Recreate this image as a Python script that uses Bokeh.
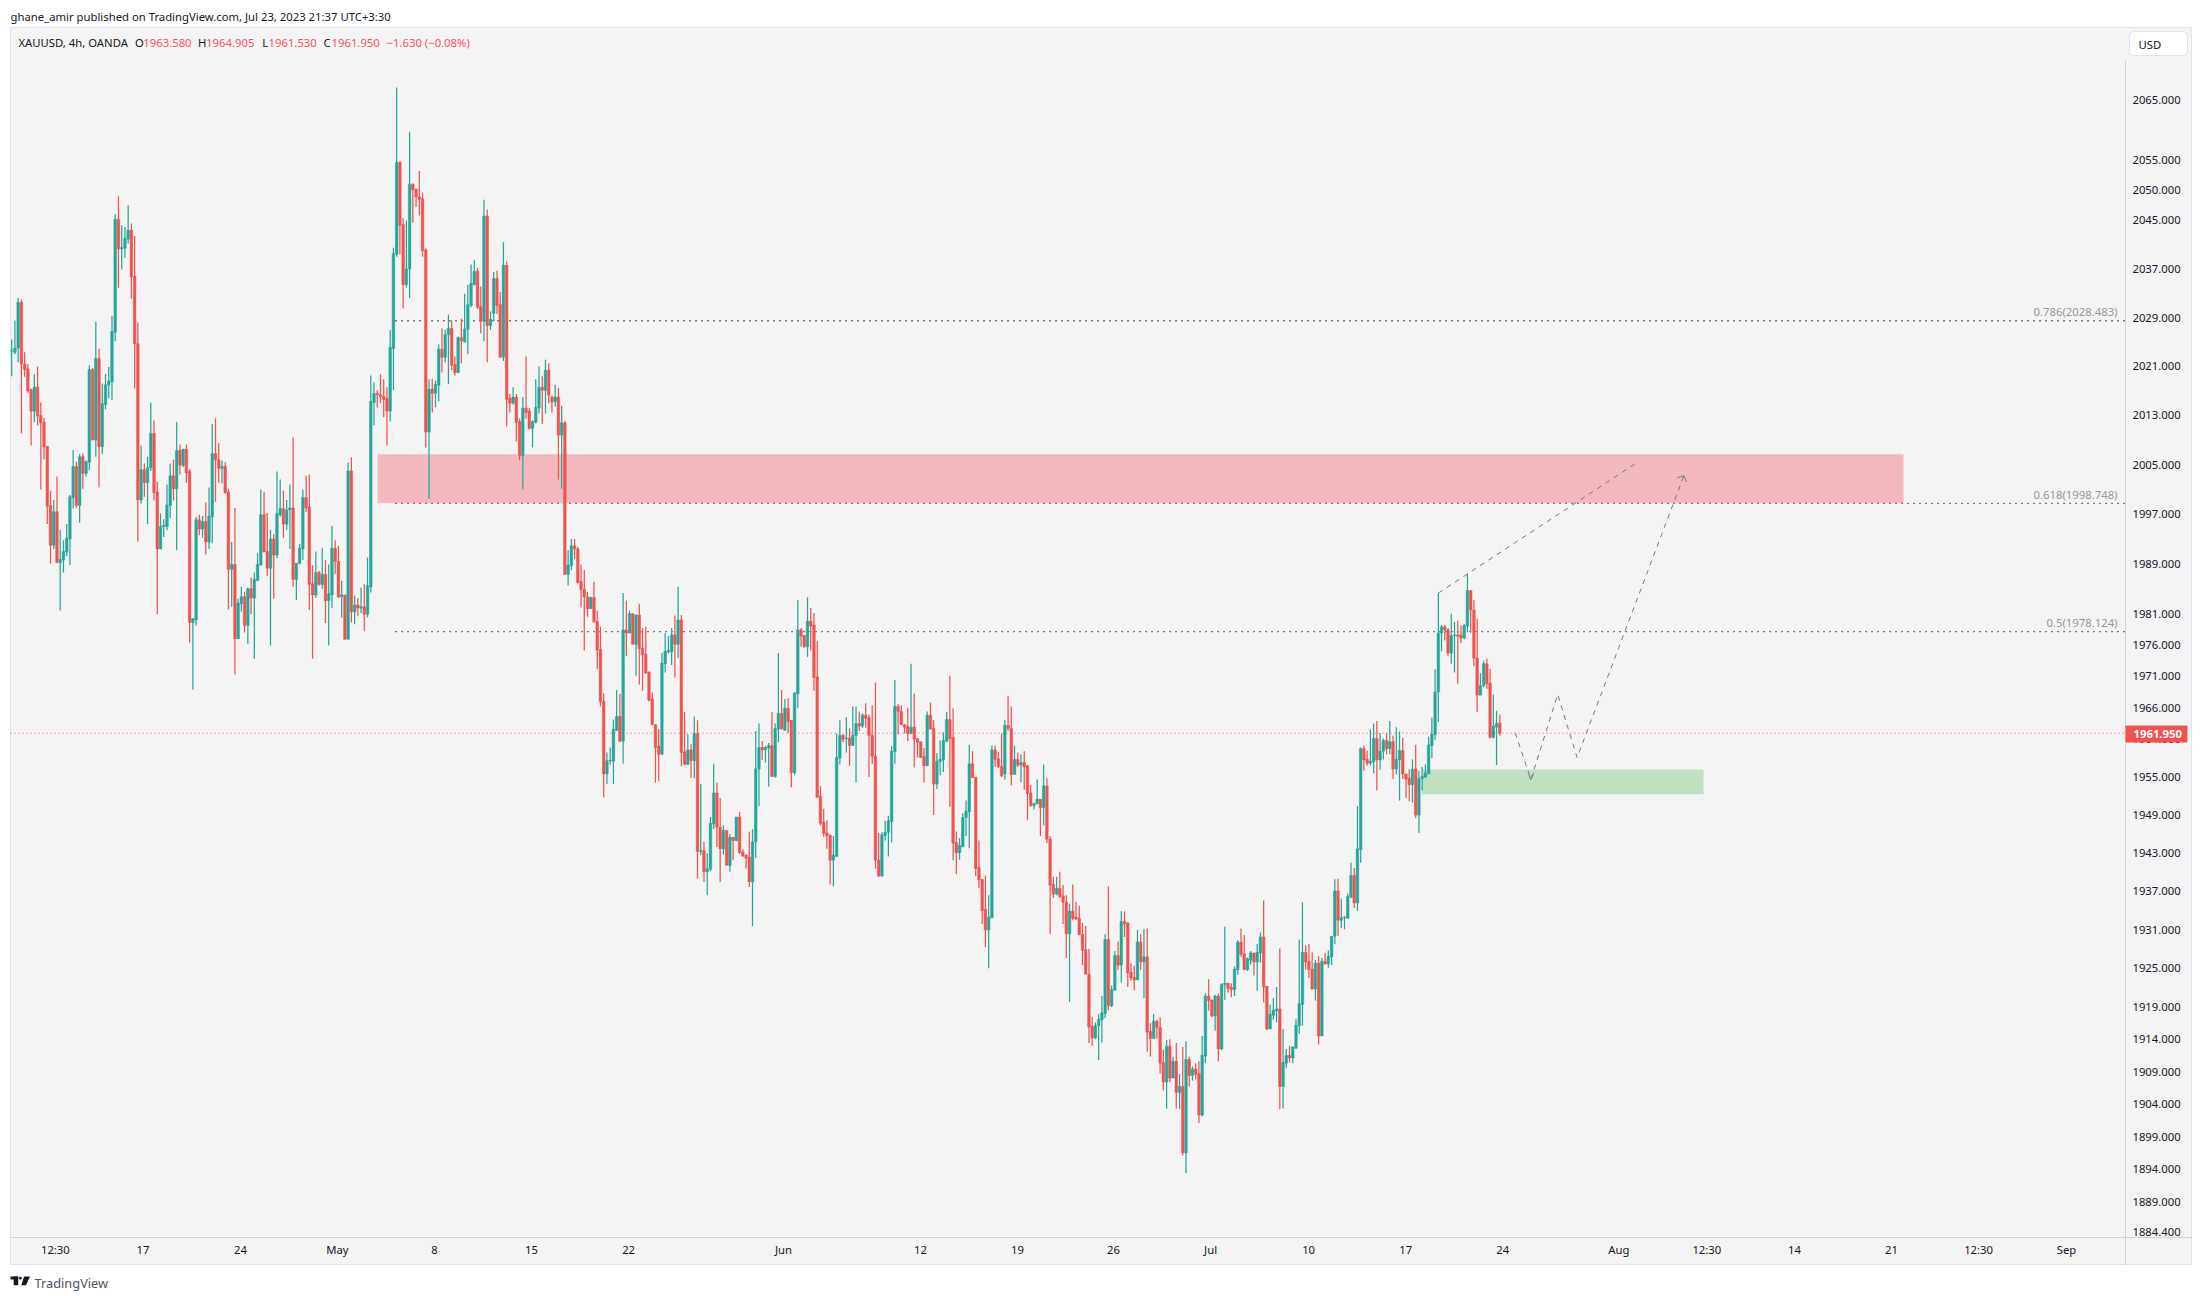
from bokeh.plotting import figure
from bokeh.embed import file_html
from bokeh.resources import INLINE
from bokeh.models import (ColumnDataSource, FixedTicker, NumeralTickFormatter, Range1d,
                          BoxAnnotation, Label, PolyAnnotation)

# ---------------------------------------------------------------- data
opens = [
2023.5,2023.3,2024,2031.5,2021.4,2020.6,2017.2,2013.7,2017.6,2013,
2011.9,2008,1998.4,1992,1997.4,1989.2,1989.6,1990.9,1993,1999.7,
2004.7,1998.4,2006.3,2003.6,2005.4,2020.5,2009,2022.3,2007.9,2014.8,
2018,2018.5,2026.6,2045.2,2040.3,2040.4,2041.9,2043.4,2035.8,2024.7,
1999.3,2004.2,2002.1,2004.5,2010.1,2000.6,1991.4,1995,1995,1998.4,
2003.2,2001.1,2007.3,2004.9,2007.5,2003.9,1979.6,1980,1996.1,1994.6,
1995.8,1992.5,1996.6,2006.8,2005.8,2004.4,2004.7,2000.6,1988.1,1988.9,
1977,1982.6,1983.7,1979.1,1985,1983.5,1986.3,1988.8,1996.9,1991,
1988.3,1993,1990.4,1996.9,1997.9,1995.4,1997.7,1998,1986.5,1989.1,
1991.4,1999.7,1998.2,1985.8,1984,1987.6,1985.7,1987.3,1983.1,1984,
1991.5,1989.4,1983.7,1984,1976.9,2004,1981.3,1982.4,1981.9,1982.1,
1980.9,1985.3,2015.1,2016.6,2016.4,2016.1,2015.8,2013.7,2023.9,2039.4,
2054.6,2044.3,2034.4,2037,2051,2050.2,2048.9,2048.6,2040.1,2010.3,
2017.3,2016.6,2017.9,2023.8,2022.5,2026.2,2027.2,2021.3,2020,2025.7,
2025,2027.1,2031,2034.4,2036.6,2030.8,2028.4,2045.7,2027.7,2029.7,
2035.4,2031.1,2022.5,2037.6,2015.8,2015,2016,2012,2006.5,2014.2,
2013.7,2010.9,2011.9,2014.2,2017.6,2017.1,2020.4,2016,2015.2,2016,
2009.8,2011.8,1987.3,1988.7,1991.9,1991.4,1986.2,1984.9,1983.7,1981.8,
1983.6,1979.8,1975.3,1967,1955.5,1957.6,1957.5,1962.4,1964.6,1960.7,
1978.4,1977.9,1981,1976.1,1980.8,1975.5,1974.5,1971.7,1967.4,1963.3,
1959.9,1958.6,1973,1974.9,1974.9,1977.6,1976.1,1980,1959,1957,
1959.3,1957.6,1961.9,1943.3,1943.4,1940.1,1940.5,1947.6,1952.5,1947.1,
1943.7,1946.6,1941.1,1945.5,1945,1948.7,1943.2,1942.7,1942.4,1938.5,
1944.8,1956.3,1959.7,1959.3,1959.6,1960,1955.1,1962.6,1965.1,1962.4,
1965.9,1964,1955.7,1968.2,1978.4,1977.5,1975.7,1979.8,1979.2,1970.9,
1952,1947.9,1946.2,1945.8,1941.9,1942.5,1958,1961.6,1961.1,1961.2,
1960,1961.6,1963.5,1963.1,1964.8,1964.4,1961.6,1958.3,1941.9,1939.4,
1945.8,1946.3,1948,1959,1966.2,1965.4,1963.3,1963,1961.9,1962.9,
1961.1,1960.6,1958.3,1956.8,1964.8,1962.7,1953.9,1957.5,1957.7,1960.7,
1964.1,1961.3,1944.7,1943.1,1944,1948.6,1949.5,1957.1,1955,1940.8,
1938.9,1934.2,1931,1932.9,1959.3,1957.9,1956.7,1955.5,1963.2,1962.7,
1955.4,1957.8,1956.9,1957.3,1956.8,1952.5,1950.5,1950.8,1951.5,1950.2,
1953.6,1945.2,1938.1,1936.6,1937.5,1936.3,1935.3,1930.4,1933.9,1933,
1932.8,1930.3,1927.9,1924.1,1916,1914.2,1916.1,1917,1918,1929.5,
1919.2,1921.6,1927,1925.5,1932.3,1932.1,1924.4,1923.6,1923.2,1929.1,
1926,1926.8,1915.2,1914.1,1916.8,1915.8,1910.4,1907.4,1912.9,1908,
1910.6,1905.8,1906.7,1896.5,1910.9,1908.4,1909.4,1908.7,1902.3,1911.4,
1920.7,1920.1,1917.6,1920.7,1912.5,1922.5,1922.7,1922,1921.7,1924.8,
1929.1,1927.3,1924.8,1926.3,1927.4,1926,1927.4,1929.9,1922.2,1915.6,
1917.7,1918.4,1918.7,1906.7,1910.3,1911.5,1911.1,1912.6,1916.1,1919.4,
1927.5,1926.1,1924.9,1921.8,1925.8,1914.5,1926.1,1925.7,1926.8,1930,
1937.1,1932.5,1932.9,1932.8,1936.1,1939.5,1935.2,1943.6,1959.5,1957.8,
1957.2,1957.4,1961.1,1957.7,1959.1,1960.8,1959.5,1960.6,1956.3,1957.7,
1959.2,1955.5,1954.8,1953.8,1956.3,1949,1954.8,1955,1955.5,1960,
1961.7,1968.5,1977.9,1978.9,1978.4,1974.7,1977.5,1977.6,1977.6,1977.1,
1979,1984.7,1981.6,1973.9,1968,1969.5,1973,1969.9,1961.3,1962.9,
1963.58]

highs = [
2025.4,2028.5,2032.2,2032,2023.3,2021.4,2017.4,2019.7,2021,2015.1,
2012.6,2008,2000.8,1999.3,2003.1,1994.5,1992.8,1995.4,2000.1,2007.4,
2005.5,2006.7,2006.8,2005.7,2021.2,2020.8,2028.3,2023.9,2018.2,2019.8,
2020.9,2029.3,2046,2049,2044.2,2043.9,2047.5,2044.5,2042.4,2028.2,
2008.1,2005.2,2006.3,2015.1,2012.2,2002.2,1997.1,1996.2,2001.8,2005.2,
2005.8,2011.9,2008.3,2007.6,2008.3,2004.3,1980.3,1996.6,1996.9,1996.7,
1998.9,2001.3,2011.6,2012.5,2008.5,2005.7,2005.4,2001.1,1992.5,1998,
1983.4,1985.3,1984.5,1985.2,1986.8,1987.6,1990.7,2001,2000.6,1997.2,
1994.5,1993.8,2003.9,2002.6,2000.8,1999.3,2001.8,2009.4,1989.1,1992.2,
2001,2003.2,2003.4,1988.8,1991,1987.9,1991.5,1989.6,1988.9,1995.1,
1992.8,1991.9,1986.3,1984,2005.4,2006.2,1983.9,1983.5,1985.2,1985.7,
1990,2019.5,2018.4,2017.1,2019.7,2018.9,2017.6,2026.9,2040.5,2067.1,
2054.8,2045.4,2045,2059.7,2051.1,2050.2,2053.2,2049.6,2040.4,2018.9,
2019,2018.7,2024.6,2027.2,2027,2029.5,2028.5,2022.6,2025.9,2028.8,
2032.9,2034.4,2037.7,2038.4,2037.2,2034.1,2048.4,2046.8,2030,2036.5,
2036.7,2033.2,2041.4,2038.2,2016.5,2017.6,2016.5,2012.5,2016,2022.6,
2014.2,2012.2,2018.9,2021,2019.4,2022.1,2021.5,2016.3,2018,2017.5,
2014.6,2012.1,1991.2,1993,1993,1991.7,1988.9,1988,1984.5,1983.7,
1986.1,1981.5,1978.9,1968.3,1958.9,1959.7,1964.1,1968.8,1968.2,1984.3,
1983.1,1981.5,1981,1980.8,1982.6,1978.7,1978.9,1971.7,1968.4,1963.3,
1962.6,1974.7,1977.9,1977.4,1978.7,1980.7,1985.3,1980.8,1965.3,1961.8,
1960.2,1964.6,1964,1953.9,1944.8,1943,1948.7,1957.1,1954.1,1951.7,
1947.4,1946.6,1946,1945.5,1948.7,1949.5,1943.6,1942.8,1946.4,1946.8,
1962.3,1963.5,1960.7,1959.9,1960.4,1965.3,1963.5,1974.7,1968.8,1967.4,
1967.5,1964,1968.5,1983.2,1978.7,1977.6,1983.6,1981.9,1981.1,1976.6,
1953.6,1950,1948.2,1946,1945.7,1961.9,1964,1961.8,1964.5,1962.7,
1966.2,1966.2,1965.4,1965.1,1966.7,1964.9,1966.4,1970,1946.2,1946.3,
1948.1,1948.9,1959.9,1970.4,1966.6,1966.4,1963.4,1966,1973,1968.2,
1961.1,1960.6,1959.6,1965.4,1966.8,1964,1958.8,1960.8,1962.1,1965.3,
1971.1,1965.9,1946.4,1945.4,1949.3,1951.3,1960.1,1959.1,1955,1945,
1938.9,1939.5,1936.4,1960,1960,1959,1961.9,1964,1967.9,1966.2,
1960,1958.9,1958.6,1959.1,1956.9,1953.8,1951,1954.6,1951.5,1957,
1954.8,1945.7,1939.3,1939.3,1940.1,1938,1936.4,1935.1,1938.1,1935.4,
1934.8,1932.1,1931.6,1928,1917.5,1916.6,1917.9,1920.7,1930.3,1937.8,
1922.3,1927.7,1929.2,1933.9,1933.9,1932.1,1925.8,1925.4,1931,1930.3,
1931.1,1931.2,1916.5,1917.9,1917,1917.4,1912.4,1913.9,1914,1911.3,
1913.4,1908.6,1912.8,1913.7,1911.3,1909.8,1910.3,1910.6,1914.5,1921.1,
1923.3,1920.1,1920.9,1921.1,1922.7,1931.5,1922.7,1922.7,1925.3,1929.4,
1931.2,1930.2,1926.7,1927.7,1927.4,1928.8,1930.6,1935.6,1922.2,1919.4,
1920.4,1922.1,1928.1,1915.6,1912.5,1913,1912.9,1917.1,1929.5,1935.3,
1928.6,1928.8,1927.5,1926.3,1926.9,1926.6,1927.4,1927.8,1930,1938.9,
1939,1935.9,1933.1,1936.7,1941.5,1940.7,1950.4,1959.7,1960,1959.2,
1962.5,1963.5,1963.9,1962,1961.1,1962,1963.9,1961.6,1962.9,1962.2,
1961.2,1955.5,1956.2,1957.8,1960.1,1956,1956.6,1957,1961.4,1964.4,
1972.1,1984.3,1979.2,1979.2,1978.7,1981,1979.7,1979.9,1979.1,1979.4,
1987.4,1984.8,1983.2,1980.2,1971.5,1973.5,1973.8,1972.2,1968.1,1965.5,
1964.905]

lows = [
2019.4,2023,2021.7,2010.1,2019.3,2016.7,2008.1,2011.9,2011.4,2001,
2005.9,1995.4,1989,1991.4,1989.1,1981.5,1987.6,1990.2,1988.8,1997.9,
1998,1995.6,2001.1,2003.1,2004.1,2009,2006.3,2001.3,2006.7,2014,
2015.8,2015.5,2025.1,2033.9,2036.9,2038.8,2041.2,2032.1,2017.4,1992.6,
1998.7,1999.8,1995.4,2004,1999.2,1980.9,1991.4,1993.3,1994.4,1996.4,
1999.2,1991.2,2003.4,2004.6,2002.1,1976.4,1968.9,1979.1,1993.6,1993.2,
1990.5,1991.4,1992.3,1999,2002.1,2002,2000.3,1981.7,1982.1,1971.3,
1977,1981.3,1978,1976.2,1980.9,1973.8,1986.3,1988.8,1990.9,1987,
1975.9,1983.4,1989.9,1996.6,1993.2,1994.5,1991.4,1985.3,1983.2,1988.9,
1989.6,1997.4,1981.6,1973.8,1983.5,1985.5,1985,1979.5,1975.9,1981.9,
1987.4,1983.5,1980.4,1976.9,1976.9,1979.6,1979.3,1980.6,1981.1,1978.2,
1980.4,1984.4,2011.4,2014.3,2015,2012.7,2008.1,2012,2017.1,2039,
2039.4,2030.5,2033.9,2032.2,2044.6,2047.2,2045.8,2039,2007.8,1999.5,
2013.5,2014.3,2015.3,2020,2021.7,2018.1,2020.4,2019.5,2019.9,2021.5,
2024.9,2023,2030.7,2034.3,2030.4,2026.4,2025.1,2021.7,2027,2028.4,
2029.6,2022.4,2021.9,2011.2,2013.5,2014.8,2008.8,2005.7,2001,2012.5,
2010.7,2007.8,2011.7,2013.3,2011.6,2013.3,2015,2013.5,2014.4,2002.6,
2001.1,1987.3,1985.5,1988,1989.8,1985.8,1982,1975.1,1980.5,1981.8,
1979.6,1972.2,1966.2,1951.8,1953.9,1957,1953.9,1962.3,1960.5,1957.1,
1974.2,1977.9,1976.1,1971.1,1969.7,1968.7,1971.5,1967,1963.3,1954.1,
1954.4,1958.6,1971.6,1974.6,1972.8,1970.8,1973.9,1956.7,1957,1957,
1954.9,1954.8,1939,1942.7,1938.5,1936.4,1940.2,1946.8,1944,1938.5,
1942.8,1941.1,1940.1,1941.9,1944.9,1942.9,1942.4,1940.6,1937.7,1931.6,
1942.2,1950.4,1957.7,1957.3,1953.5,1955.1,1954.9,1960.5,1962.6,1962.4,
1962,1953.4,1955.3,1966,1975.7,1975.5,1974.1,1975.1,1968.7,1951.8,
1947.4,1945.6,1943.7,1938.1,1937.8,1942.5,1957,1960.5,1958.9,1956.8,
1959.9,1954.2,1962.3,1962.8,1962.8,1955,1957.1,1940.6,1939.4,1939.4,
1945,1942.5,1944.7,1957.1,1961.8,1963.3,1961.9,1960.7,1961.8,1956.5,
1958.1,1958.1,1954.1,1956.7,1962.6,1949,1953.1,1955.3,1955.8,1960.5,
1950.3,1941.9,1939.7,1942,1944,1945.7,1943.8,1954.9,1939.4,1937.5,
1931.9,1928.3,1925,1932.9,1956.6,1956.4,1955,1954.6,1962.3,1953.7,
1955.4,1956.6,1954.2,1953,1948.2,1950.3,1949.9,1950.7,1945.7,1947.4,
1944.6,1930.4,1936,1936.4,1936,1931.9,1926.6,1919.8,1932.5,1932.5,
1930.2,1925.5,1924.1,1913.4,1913,1914,1910.8,1913.5,1917.3,1918.5,
1919,1921.6,1924.8,1922.8,1929.9,1922.1,1923.1,1921.6,1923.2,1924.8,
1920.4,1912.1,1911.3,1914.1,1914.1,1908.7,1906.1,1903.3,1907.4,1908,
1903.3,1903.2,1896.1,1893.4,1906.7,1907.6,1907.8,1901.1,1902.1,1910.3,
1918.4,1917.4,1915.3,1910.6,1912.3,1920.1,1921.2,1920.5,1920.7,1924,
1926.8,1924.8,1924.6,1925.6,1923.9,1921.5,1925.9,1919.7,1915.4,1915.6,
1917,1916.6,1903.2,1903.3,1909.5,1910.4,1910.3,1912.6,1914.8,1916.1,
1924.8,1923.5,1921.7,1920,1913.2,1914.5,1925.6,1925.1,1925.5,1928.8,
1930.1,1931.3,1931.1,1932.8,1936,1934.4,1934,1941.5,1956,1956.8,
1956.8,1955.6,1952.9,1956.2,1957.8,1958.6,1958.6,1954.7,1955.4,1951.3,
1954.7,1951.7,1951.2,1951,1948.5,1946.2,1952.9,1954.9,1955.5,1958,
1960.9,1963.7,1975,1976.7,1974.2,1973,1971.6,1969.8,1976.3,1976.9,
1978,1978,1972.6,1965.3,1968,1969.3,1969,1961.1,1961.1,1956.9,
1961.53]

closes = [
2023.6,2024,2031.5,2021.4,2020.5,2017,2013.7,2017.6,2012.9,2011.8,
2007.9,1998.3,1992,1997.4,1989.2,1989.7,1991,1993.1,1999.8,2004.7,
1998.4,2006.3,2003.6,2005.5,2020.5,2009,2022.3,2007.9,2014.9,2018,
2018.6,2026.7,2045.2,2040.3,2040.5,2042,2043.4,2035.7,2024.7,1999.3,
2004.2,2002.1,2004.5,2010.1,2000.5,1991.4,1995,1995.2,1998.5,2003.2,
2001.1,2007.3,2004.9,2007.5,2003.7,1979.6,1980.2,1996.1,1994.6,1995.8,
1992.5,1996.7,2006.8,2005.8,2004.4,2004.7,2000.5,1988.1,1988.9,1977,
1982.7,1983.7,1979.1,1985,1983.5,1986.5,1988.9,1996.9,1990.9,1988.3,
1993,1990.4,1997.1,1997.9,1995.4,1997.7,1998,1986.5,1989.1,1991.5,
1999.7,1998,1985.7,1984,1987.6,1985.7,1987.3,1983.1,1984.2,1991.5,
1989.4,1983.7,1984,1976.9,2004,1981.3,1982.4,1981.9,1982.1,1980.9,
1985.5,2015.3,2016.6,2016.4,2016.1,2015.6,2013.7,2024.1,2039.5,2054.6,
2044.2,2034.4,2037,2051,2050.1,2048.9,2048.5,2040,2010.3,2017.3,
2016.6,2018.1,2023.8,2022.5,2026.2,2027.2,2021.2,2020,2025.7,2025.2,
2027.1,2031.1,2034.6,2036.6,2030.7,2028.4,2045.7,2027.7,2028.7,2035.4,
2031,2022.5,2037.6,2015.6,2015,2016,2011.9,2006.5,2014.2,2013.5,
2010.9,2012,2014.3,2017.6,2017.1,2020.4,2016.3,2015.2,2016,2009.8,
2011.8,1987.3,1988.8,1991.9,1991.4,1986,1984.9,1983.7,1981.8,1983.6,
1979.7,1975.2,1967,1955.5,1957.6,1957.7,1962.6,1964.6,1960.7,1978.4,
1977.9,1981,1976.1,1980.8,1975.4,1974.4,1971.5,1967.2,1963.3,1959.7,
1958.6,1973.1,1975,1975.1,1977.6,1976.1,1980,1958.9,1957,1959.3,
1957.6,1961.9,1943.3,1943.4,1940.1,1940.6,1947.7,1952.5,1947.1,1943.7,
1946.6,1941.1,1945.5,1945,1948.7,1943.1,1942.6,1942.2,1938.5,1944.8,
1956.3,1959.7,1959.3,1959.7,1960,1955.1,1962.7,1965.1,1962.6,1965.9,
1963.8,1955.7,1968.3,1978.4,1977.4,1975.7,1979.8,1979,1970.8,1951.8,
1947.7,1946.1,1945.7,1941.9,1942.7,1958.1,1961.6,1961,1961.2,1960,
1961.6,1963.5,1963.1,1964.8,1964.3,1961.6,1958.3,1941.9,1939.4,1945.9,
1946.3,1948.1,1959.1,1966.2,1965.4,1963.3,1962.9,1961.9,1962.9,1961,
1960.5,1958.1,1956.8,1964.8,1962.6,1953.9,1957.5,1957.8,1960.8,1964.1,
1961.1,1944.6,1943.1,1944.2,1948.6,1949.6,1957.1,1954.9,1940.6,1938.8,
1934,1931,1933,1959.3,1957.8,1956.7,1955.2,1963.2,1962.7,1955.4,
1957.8,1956.9,1957.3,1956.6,1952.4,1950.5,1950.8,1951.5,1950.2,1953.6,
1945.2,1938,1936.6,1937.5,1936.2,1935.3,1930.4,1933.9,1932.8,1932.7,
1930.2,1927.8,1924.1,1915.9,1914.2,1916.1,1917.1,1918.1,1929.5,1919.2,
1921.7,1927,1925.5,1932.3,1931.9,1924.3,1923.5,1923.2,1929.1,1926,
1926.8,1915.1,1914.1,1916.8,1915.8,1910.3,1907.4,1912.9,1908,1910.6,
1905.8,1906.7,1896.5,1910.9,1908.4,1909.4,1908.6,1902.3,1911.5,1920.7,
1920,1917.6,1920.7,1912.5,1922.5,1922.7,1921.9,1921.7,1924.9,1929.1,
1927.2,1924.8,1926.5,1927.4,1926,1927.5,1929.9,1922.1,1915.6,1917.9,
1918.5,1918.7,1906.7,1910.4,1911.5,1911.1,1912.8,1916.2,1919.5,1927.5,
1926,1924.8,1921.8,1925.8,1914.5,1926.1,1925.7,1926.9,1930,1937.1,
1932.5,1932.9,1933,1936.2,1939.5,1935.2,1943.7,1959.5,1957.7,1957.2,
1957.5,1961.1,1957.7,1959.1,1960.8,1959.5,1960.6,1956.3,1957.8,1959.2,
1955.5,1954.7,1953.8,1956.2,1949,1954.8,1955.1,1955.6,1960.1,1961.8,
1968.5,1977.9,1978.9,1978.4,1974.7,1977.5,1977.6,1977.4,1977.1,1979.1,
1984.7,1981.6,1973.9,1968,1969.5,1973,1969.8,1961.3,1963.1,1963.5,
1961.95]

price_ticks = [2065,2055,2050,2045,2037,2029,2021,2013,2005,1997,1989,1981,1976,1971,1966,
               1961,1955,1949,1943,1937,1931,1925,1919,1914,1909,1904,1899,1894,1889,1884.4]
time_tick_bars = [13.5,40.6,70.7,100.7,130.7,160.7,190.7,238.6,280.9,310.9,340.6,370.6,400.9,
                  430.9,460.9,496.8,524,551.1,581.1,608,635.2]
time_tick_labels = ["12:30","17","24","May","8","15","22","Jun","12","19","26","Jul","10",
                    "17","24","Aug","12:30","14","21","12:30","Sep"]

fib_levels = [2028.483, 1998.748, 1978.124]
fib_texts = ["0.786(2028.483)", "0.618(1998.748)", "0.5(1978.124)"]
last_price = 1961.95

resistance_bars = [113.1, 584.8]
resistance_prices = [1998.75, 2006.7]
support_bars = [435.9, 523.0]
support_prices = [1952.3, 1956.2]

trend_bars = [441, 502]
trend_prices = [1984.3, 2005.2]
path_bars = [464.8, 469.6, 477.9, 483.9, 516.9]
path_prices = [1962, 1954.6, 1968.1, 1958.1, 2003.2]
head1_bars = [469.0, 469.6, 470.5]
head1_prices = [1955.3, 1954.6, 1955.6]
head2_bars = [514.8, 516.9, 517.7]
head2_prices = [2002.9, 2003.2, 2002.2]

# ---------------------------------------------------------------- style
UP, DOWN = "#26A69A", "#EF5350"
TXT_RED = "#F7525F"
GREY = "#787B86"
PANEL = "#F4F4F4"
EDGE = "#E0E3EB"
FONT = "Noto Sans"
FS = "11.3px"
W, H = 2200, 1298
AXIS_BAR = 653.4      # bar position of the price axis
AXIS_PRICE = 1883.6   # price position of the time axis

n = len(opens)
bars = list(range(n))
src = ColumnDataSource(dict(
    x=bars, o=opens, h=highs, l=lows, c=closes,
    top=[max(a, b) for a, b in zip(opens, closes)],
    bot=[min(a, b) for a, b in zip(opens, closes)],
    col=[UP if c >= o else DOWN for o, c in zip(opens, closes)],
))

# the frame fills the whole canvas, the axes are pinned inside it
p = figure(width=W, height=H, output_backend="svg", toolbar_location=None,
           x_range=Range1d(-3.462, 676.6), y_range=Range1d(1874.30, 2081.68),
           y_axis_type="log", y_axis_location="right",
           min_border_left=0, min_border_right=0, min_border_top=0, min_border_bottom=0,
           background_fill_color="white", border_fill_color="white")
p.outline_line_color = None
p.grid.visible = False

xa, ya = p.xaxis[0], p.yaxis[0]
xa.ticker = FixedTicker(ticks=time_tick_bars)
xa.major_label_overrides = {t: s for t, s in zip(time_tick_bars, time_tick_labels)}
xa.fixed_location = AXIS_PRICE
xa.bounds = (-0.37, 673.8)
ya.ticker = FixedTicker(ticks=price_ticks)
ya.formatter = NumeralTickFormatter(format="0.000")
ya.fixed_location = AXIS_BAR
ya.bounds = (1879.45, 2071.77)
for a in (xa, ya):
    a.major_tick_line_color = None
    a.minor_tick_line_color = None
    a.major_tick_in = 0
    a.major_tick_out = 0
    a.minor_tick_in = 0
    a.minor_tick_out = 0
    a.axis_line_color = "#D1D4DC"
    a.axis_line_width = 1
    a.major_label_text_font = FONT
    a.major_label_text_font_size = FS
    a.major_label_text_color = "#131722"
xa.major_label_standoff = 5
ya.major_label_standoff = 7


def sbox(l, t, r, b, fill=None, line=None, level="annotation", radius=0):
    """Rectangle in page pixels."""
    return BoxAnnotation(left=l, right=r, top=t, bottom=b,
                         left_units="canvas", right_units="canvas", top_units="canvas", bottom_units="canvas",
                         fill_color=fill, fill_alpha=1 if fill else 0,
                         line_color=line, line_alpha=1 if line else 0, line_width=1,
                         level=level, border_radius=radius, editable=False)


def stext(x, y, s, color="#131722", align="left", style="normal", size=FS):
    """Text in page pixels, y is the text's middle."""
    return Label(x=x, y=y, x_units="canvas", y_units="canvas", text=s,
                 text_font=FONT, text_font_size=size, text_color=color, text_align=align,
                 text_baseline="middle", text_font_style=style)


# chart panel
p.add_layout(sbox(10, 27, 2191, 1264, fill=PANEL, line=EDGE, level="image"))

# zones
p.quad(left=[resistance_bars[0]], right=[resistance_bars[1]], bottom=[resistance_prices[0]],
       top=[resistance_prices[1]], fill_color="#F4B9BF", line_color=None, level="underlay")
p.quad(left=[support_bars[0]], right=[support_bars[1]], bottom=[support_prices[0]],
       top=[support_prices[1]], fill_color="#C1DFC3", line_color=None, level="underlay")

# price line and fib lines
p.line([-0.37, AXIS_BAR], [last_price, last_price], line_color=TXT_RED, line_width=1, line_dash=[1, 3])
for lv in fib_levels:
    p.line([118.5, AXIS_BAR], [lv, lv], line_color=GREY, line_width=1.4, line_dash=[2, 4])

# candles
p.segment("x", "h", "x", "l", source=src, color="col", line_width=1.25)
p.vbar("x", width=0.8, top="top", bottom="bot", source=src, fill_color="col", line_color="col", line_width=0.5)

# drawings
for bx, pr in ((trend_bars, trend_prices), (path_bars, path_prices)):
    p.line(bx, pr, line_color=GREY, line_width=1, line_dash=[5, 5])
for bx, pr in ((head1_bars, head1_prices), (head2_bars, head2_prices)):
    p.line(bx, pr, line_color=GREY, line_width=1)

# fib labels
for lv, s, yy in zip(fib_levels, fib_texts, (311, 494, 622)):
    p.add_layout(stext(2117, yy, s, color="#9598A1", align="right"))

# axis furniture
p.add_layout(sbox(2129, 31, 2187, 55, fill="white", line=EDGE, radius=4))
p.add_layout(stext(2138, 43.5, "USD"))
p.add_layout(sbox(2125, 725, 2187, 742, fill=DOWN, radius=1))
p.add_layout(stext(2133, 733.6, "1961.950", color="white", style="bold"))

# header and legend
p.add_layout(stext(10, 15.5, "ghane_amir published on TradingView.com, Jul 23, 2023 21:37 UTC+3:30"))
p.add_layout(stext(18, 42, "XAUUSD, 4h, OANDA"))
for xx, s, col in ((134.4, "O", "#131722"), (142.8, "1963.580", TXT_RED), (197.5, "H", "#131722"),
                   (205.6, "1964.905", TXT_RED), (261.8, "L", "#131722"), (268, "1961.530", TXT_RED),
                   (323, "C", "#131722"), (331, "1961.950", TXT_RED), (386, "\u22121.630 (\u22120.08%)", TXT_RED)):
    p.add_layout(stext(xx, 42, s, color=col))

# footer logo
p.add_layout(sbox(10, 1276, 17.7, 1279, fill="#131722"))
p.add_layout(sbox(13.2, 1276, 17.7, 1284.7, fill="#131722"))
p.add_layout(sbox(18.6, 1276.2, 21.2, 1279, fill="#131722", radius=1))
p.add_layout(PolyAnnotation(xs=[23.5, 29.5, 25.5, 20.8], ys=[1276, 1276, 1284.7, 1284.7],
                            xs_units="canvas", ys_units="canvas", fill_color="#131722", fill_alpha=1, line_alpha=0))
p.add_layout(stext(34, 1282, "TradingView", color="#50535E", size="12.8px"))

open("out.html", "w").write(file_html(p, INLINE))
